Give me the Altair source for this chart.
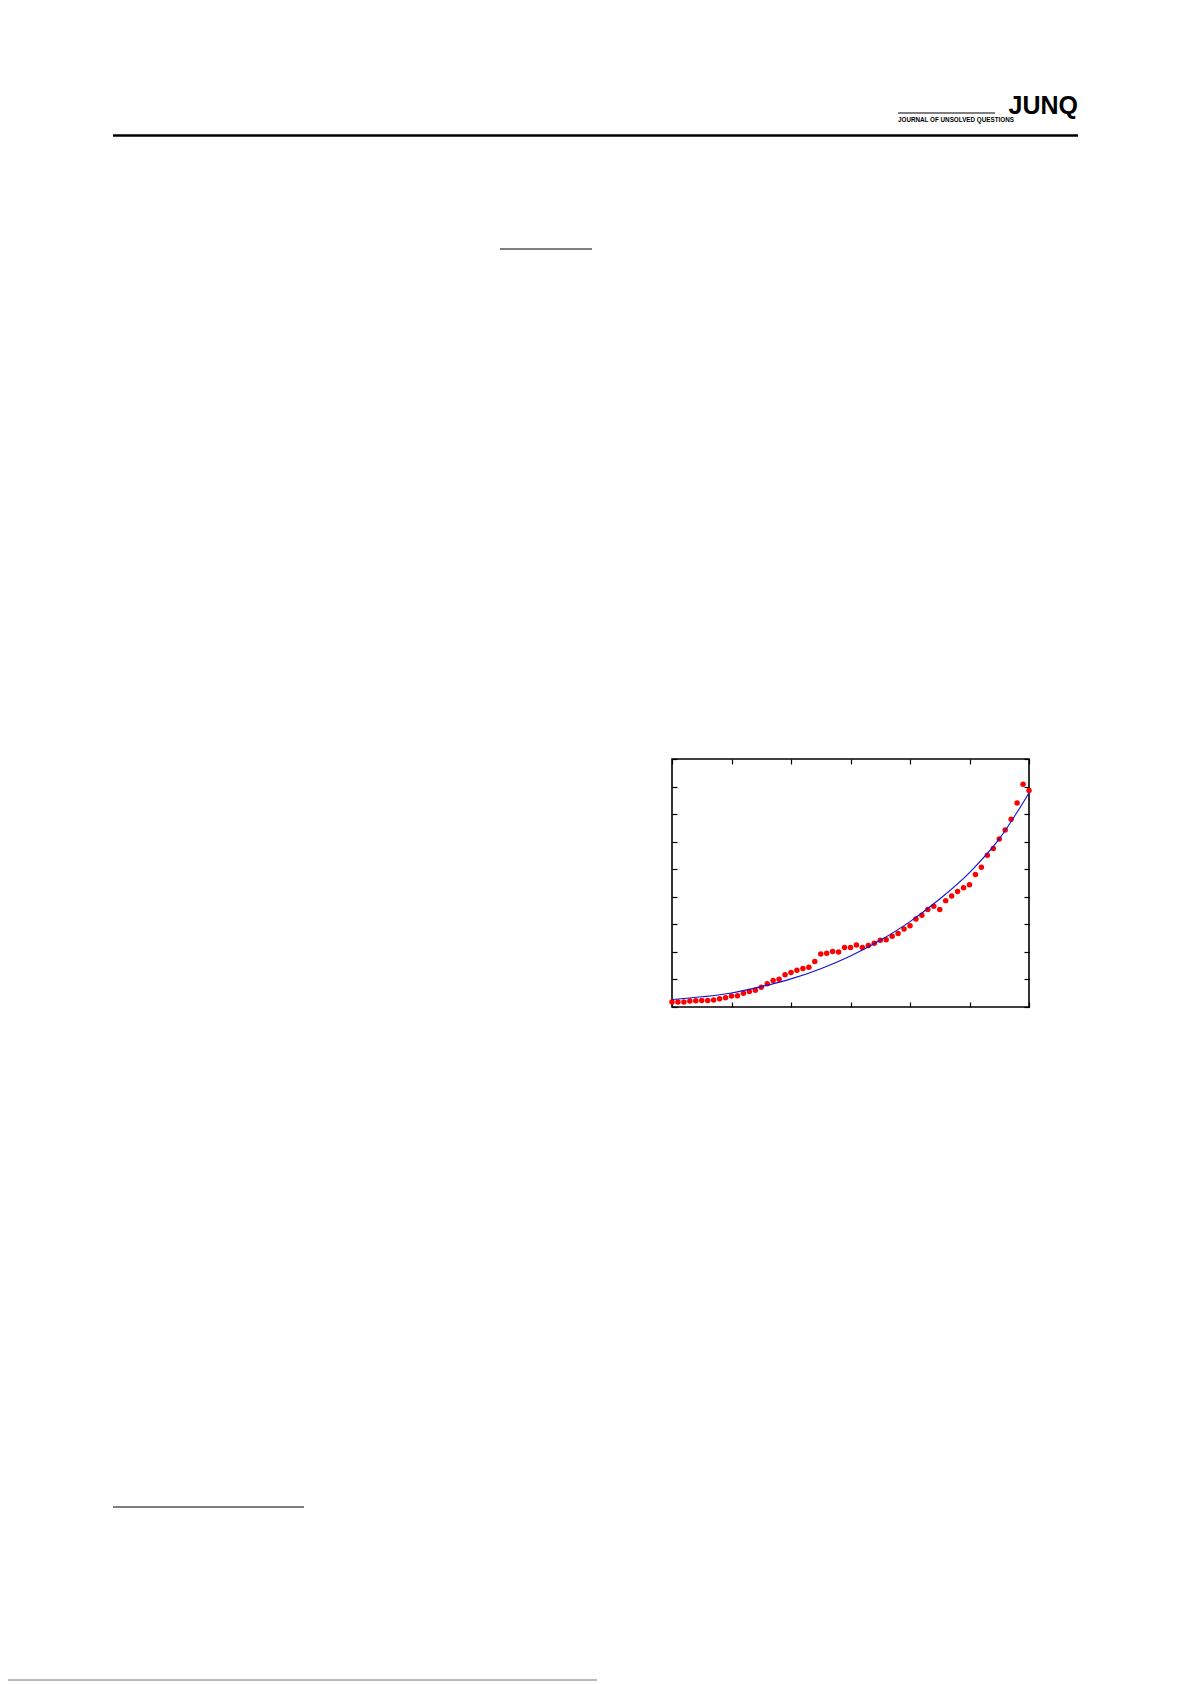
import altair as alt
import pandas as pd

x_vals = list(range(61))
y_vals = [0.18, 0.18, 0.18, 0.22, 0.23, 0.24, 0.24, 0.25, 0.30, 0.34,
          0.40, 0.41, 0.50, 0.56, 0.61, 0.72, 0.84, 0.96, 1.01, 1.17,
          1.25, 1.33, 1.40, 1.44, 1.65, 1.92, 1.95, 2.01, 2.00, 2.16,
          2.16, 2.25, 2.16, 2.23, 2.31, 2.42, 2.44, 2.57, 2.67, 2.83,
          2.95, 3.19, 3.33, 3.54, 3.66, 3.54, 3.86, 4.03, 4.19, 4.33,
          4.44, 4.81, 5.07, 5.51, 5.75, 6.10, 6.42, 6.81, 7.40, 8.08, 7.86]

# fitted curve
fit_x = [0, 5, 10, 15, 20, 25, 30, 35, 40, 45, 50, 55, 60]
fit_y = [0.27, 0.37, 0.51, 0.74, 1.02, 1.39, 1.85, 2.42, 3.10, 3.92, 4.88, 6.10, 7.77]

x_ticks = [0, 10, 20, 30, 40, 50, 60]
y_ticks = [0, 1, 2, 3, 4, 5, 6, 7, 8, 9]

pts = pd.DataFrame({"x": x_vals, "y": y_vals})
fit = pd.DataFrame({"x": fit_x, "y": fit_y})

xs = alt.Scale(domain=[0, 60], nice=False, zero=False)
ys = alt.Scale(domain=[0, 9], nice=False, zero=False)

def ax(orient, values):
    return alt.Axis(orient=orient, values=values, labels=False, domain=False,
                    ticks=True, tickSize=5, offset=-5, tickColor="black",
                    tickWidth=1.2, grid=False, title=None)

points = alt.Chart(pts).mark_circle(size=30, color="#ff0000", opacity=1).encode(
    x=alt.X("x:Q", scale=xs, axis=ax("bottom", x_ticks)),
    y=alt.Y("y:Q", scale=ys, axis=ax("left", y_ticks)),
)

curve = alt.Chart(fit).mark_line(color="#1010d0", strokeWidth=1.1, interpolate="monotone").encode(
    x=alt.X("x:Q", scale=xs, axis=ax("top", x_ticks)),
    y=alt.Y("y:Q", scale=ys, axis=ax("right", y_ticks)),
)

one = alt.Data(values=[{"a": 1}])

def rule(x1, x2, y, w, color="black"):
    return alt.Chart(one).mark_rule(color=color, strokeWidth=w).encode(
        x=alt.value(x1), x2=alt.value(x2), y=alt.value(y))

def text(t, x, y, size, align="left", weight="normal"):
    return alt.Chart(one).mark_text(text=t, align=align, baseline="alphabetic",
                                    fontSize=size, fontWeight=weight,
                                    font="Liberation Sans", color="black").encode(
        x=alt.value(x), y=alt.value(y))

deco = [
    rule(-559, 406, -623.5, 2.5),
    rule(226, 323, -646, 1.2),
    text("JUNQ", 406, -645, 25, align="right", weight="bold"),
    text("JOURNAL OF UNSOLVED QUESTIONS", 226, -637, 6.3, weight="bold"),
    rule(-172, -80, -510, 1.2),
    rule(-559, -368, 748, 1.0),
    rule(-664, -75, 921, 0.8, color="#555555"),
]

chart = alt.layer(points, curve, *deco).resolve_axis(
    x="independent", y="independent"
).properties(
    width=357, height=248,
    padding={"left": 664, "top": 751, "right": 154, "bottom": 678},
    autosize="none",
).configure_view(stroke="black", strokeWidth=1.6)

chart.save("out.html", embed_options={"renderer": "svg", "actions": False})
